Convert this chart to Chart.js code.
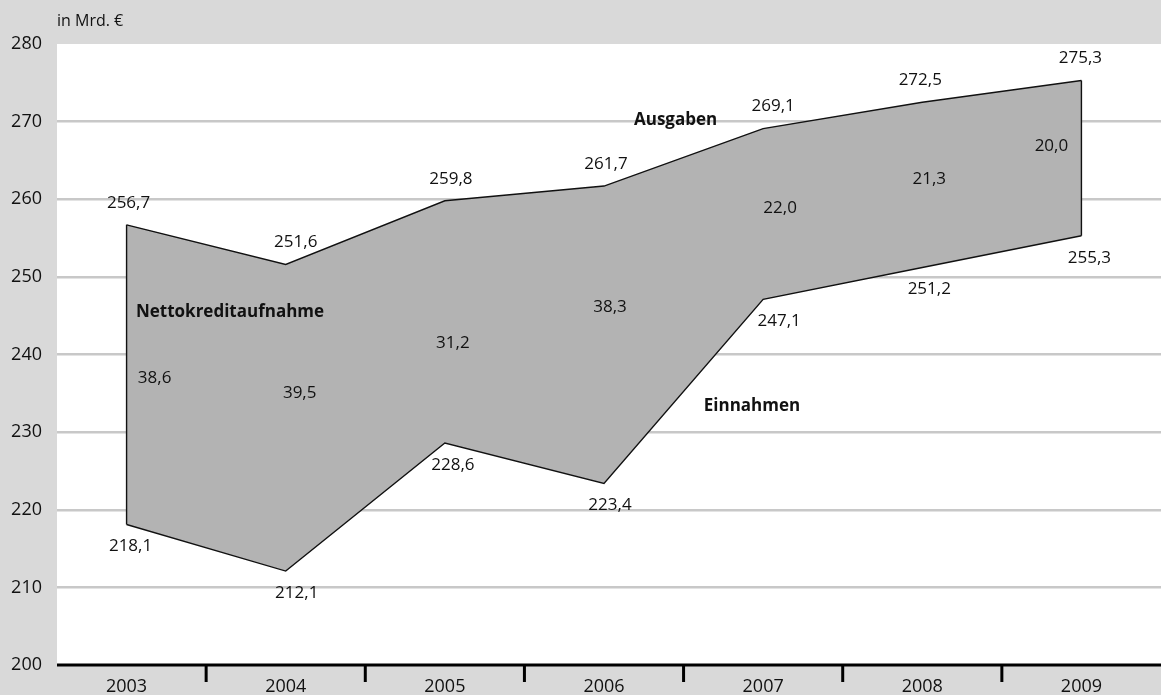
<!DOCTYPE html>
<html lang="de">
<head>
<meta charset="utf-8">
<title>Ausgaben, Einnahmen, Nettokreditaufnahme 2003–2009</title>
<script src="https://cdn.jsdelivr.net/npm/chart.js@4.4.1/dist/chart.umd.min.js"></script>
<style>
  html, body { margin: 0; padding: 0; background: #d9d9d9; }
  #wrap { width: 1161px; height: 695px; position: relative; }
</style>
</head>
<body>
<div id="wrap"><canvas id="haushaltChart"></canvas></div>
<script>
/* =========================================================
   Bundeshaushalt — Ausgaben / Einnahmen / Nettokreditaufnahme
   ========================================================= */

// ─── Data ─────────────────────────────────────────────────
const years       = ['2003', '2004', '2005', '2006', '2007', '2008', '2009'];
const ausgaben    = [256.7, 251.6, 259.8, 261.7, 269.1, 272.5, 275.3];
const einnahmen   = [218.1, 212.1, 228.6, 223.4, 247.1, 251.2, 255.3];
const nettokredit = [38.6, 39.5, 31.2, 38.3, 22.0, 21.3, 20.0];
const yMin = 200, yMax = 280, yStep = 10;
const unitLabel = 'in Mrd. €';

// ─── Styles ───────────────────────────────────────────────
const FONT = "'Open Sans', 'Noto Sans', sans-serif";
const INK = '#111111';
const BG_GRAY = '#d9d9d9';
const AREA_GRAY = '#b3b3b3';
const GRID_GRAY = '#c8c8c8';
const PLOT_LEFT = 57;   // white plot background starts here

// small label nudges (px in x, data units in y for the Nettokredit values)
const ausNudgeX   = [2, 10, 6, 2, 10, -2, -1];
const einNudgeX   = [4, 11, 8, 6, 16, 7, 8];
const nettoNudgeX = [28, 14, 8, 6, 17, 7, -30];
const nettoNudgeY = [-0.4, 3.2, -2.7, 3.6, 0.8, 0.7, 1.5];

const fmt = v => v.toFixed(1).replace('.', ',');

// ─── Plugins ──────────────────────────────────────────────
const backdropPlugin = {
  id: 'backdrop',
  beforeDraw(chart) {
    const { ctx, chartArea: a } = chart;
    ctx.save();
    ctx.fillStyle = '#ffffff';
    ctx.fillRect(PLOT_LEFT, a.top, chart.width - PLOT_LEFT, a.bottom - a.top);
    ctx.restore();
  },
  beforeDatasetsDraw(chart) {
    // hide grid stubs left of the white plot area
    const { ctx, chartArea: a } = chart;
    ctx.save();
    ctx.fillStyle = BG_GRAY;
    ctx.fillRect(a.left, a.top - 2, PLOT_LEFT - a.left, a.bottom - a.top + 4);
    ctx.restore();
  }
};

const annotatePlugin = {
  id: 'annotate',
  afterDatasetsDraw(chart) {
    const { ctx, chartArea: a, scales: { x, y } } = chart;
    const last = years.length - 1;
    ctx.save();

    // closing edges of the area
    ctx.strokeStyle = INK;
    ctx.lineWidth = 1.4;
    [0, last].forEach(i => {
      ctx.beginPath();
      ctx.moveTo(x.getPixelForValue(i), y.getPixelForValue(ausgaben[i]));
      ctx.lineTo(x.getPixelForValue(i), y.getPixelForValue(einnahmen[i]));
      ctx.stroke();
    });

    // x axis line + tick marks between categories
    ctx.strokeStyle = '#000';
    ctx.lineWidth = 3;
    ctx.beginPath();
    ctx.moveTo(PLOT_LEFT, a.bottom);
    ctx.lineTo(a.right, a.bottom);
    ctx.stroke();
    for (let i = 0; i < last; i++) {
      const bx = (x.getPixelForValue(i) + x.getPixelForValue(i + 1)) / 2;
      ctx.beginPath();
      ctx.moveTo(bx, a.bottom);
      ctx.lineTo(bx, a.bottom + 17);
      ctx.stroke();
    }

    // value labels
    ctx.fillStyle = INK;
    ctx.textAlign = 'center';
    ctx.textBaseline = 'middle';
    ctx.font = `17px ${FONT}`;
    years.forEach((_, i) => {
      const px = x.getPixelForValue(i);
      ctx.fillText(fmt(ausgaben[i]), px + ausNudgeX[i], y.getPixelForValue(ausgaben[i]) - 22);
      ctx.fillText(fmt(einnahmen[i]), px + einNudgeX[i], y.getPixelForValue(einnahmen[i]) + 22);
      const mid = (ausgaben[i] + einnahmen[i]) / 2 + nettoNudgeY[i];
      ctx.fillText(fmt(nettokredit[i]), px + nettoNudgeX[i], y.getPixelForValue(mid));
    });

    // series names
    ctx.font = `bold 17px ${FONT}`;
    ctx.fillText('Ausgaben', x.getPixelForValue(3.45), y.getPixelForValue(270.2));
    ctx.fillText('Nettokreditaufnahme', x.getPixelForValue(0.65), y.getPixelForValue(245.4));
    ctx.fillText('Einnahmen', x.getPixelForValue(3.93), y.getPixelForValue(233.3));

    // unit
    ctx.textAlign = 'left';
    ctx.font = `16px ${FONT}`;
    ctx.fillText(unitLabel, PLOT_LEFT, 21);
    ctx.restore();
  }
};

// ─── Chart ────────────────────────────────────────────────
function renderHaushaltChart() {
  const el = document.getElementById('haushaltChart');
  if (!el) return;

  new Chart(el, {
    type: 'line',
    data: {
      labels: years,
      datasets: [
        {
          label: 'Einnahmen',
          data: einnahmen,
          borderColor: INK,
          borderWidth: 1.4,
          fill: false,
        },
        {
          label: 'Ausgaben',
          data: ausgaben,
          borderColor: INK,
          borderWidth: 1.4,
          backgroundColor: AREA_GRAY,
          fill: '-1',
        },
      ],
    },
    options: {
      responsive: true,
      maintainAspectRatio: false,
      animation: false,
      layout: { padding: { top: 44, left: 0, right: 0, bottom: 0 } },
      elements: { point: { radius: 0 }, line: { tension: 0 } },
      plugins: {
        legend: { display: false },
        tooltip: { enabled: false },
      },
      scales: {
        x: {
          offset: true,
          grid: { display: false, drawTicks: false },
          border: { display: false },
          ticks: { color: INK, font: { family: FONT, size: 18 }, padding: 11 },
          afterFit: s => { s.height = 30; },
        },
        y: {
          min: yMin,
          max: yMax,
          ticks: { stepSize: yStep, color: INK, font: { family: FONT, size: 18 }, padding: 5 },
          grid: {
            drawTicks: false,
            lineWidth: 2.5,
            color: c => (c.tick && (c.tick.value === yMin || c.tick.value === yMax)) ? 'rgba(0,0,0,0)' : GRID_GRAY,
          },
          border: { display: false },
          afterFit: s => { s.width = 47; },
        },
      },
    },
    plugins: [backdropPlugin, annotatePlugin],
  });
}

document.addEventListener('DOMContentLoaded', renderHaushaltChart);
</script>
</body>
</html>
